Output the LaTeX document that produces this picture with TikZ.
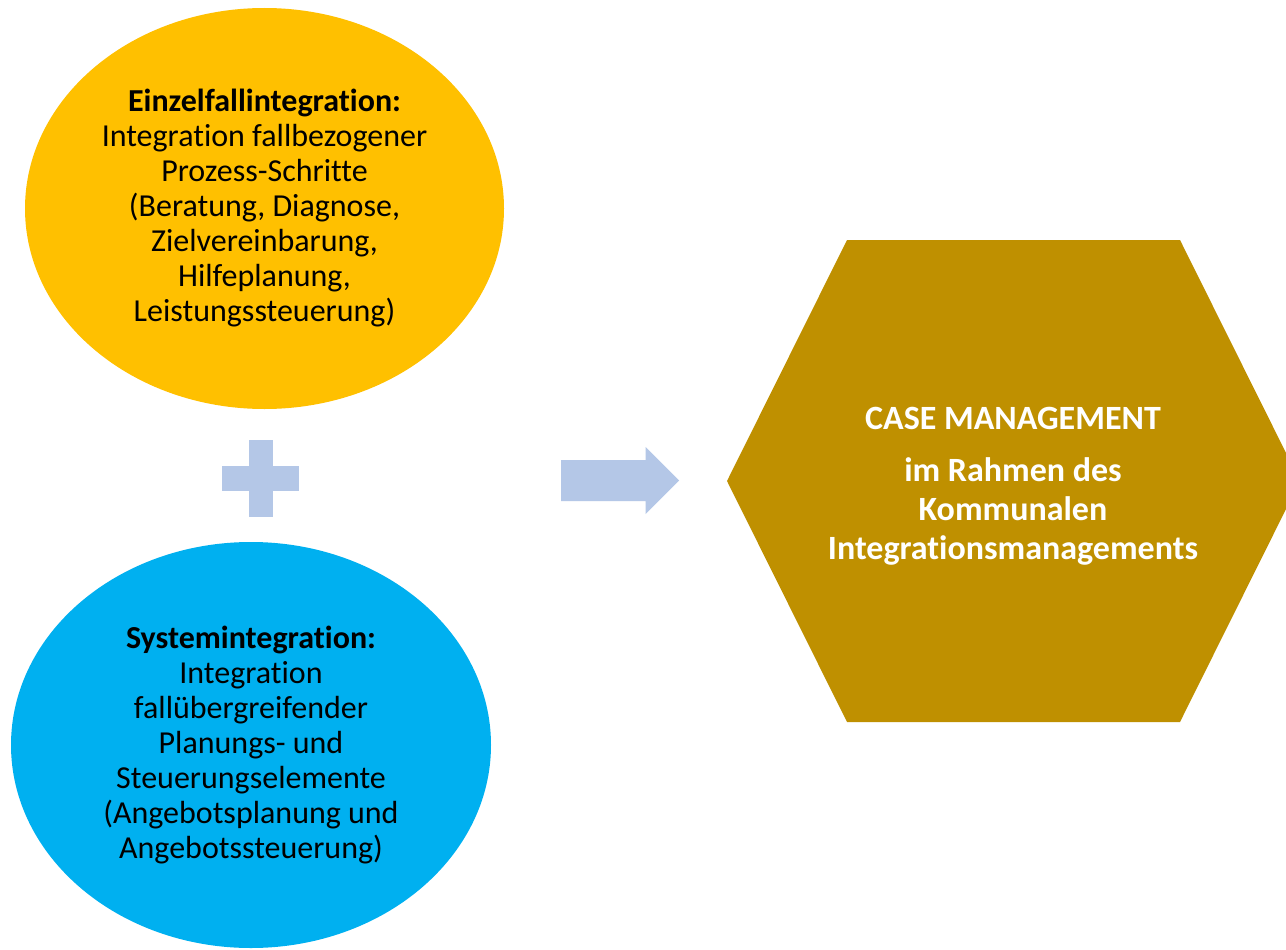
\documentclass[tikz,border=0pt]{standalone}
\usepackage{fontspec}
\setmainfont{Carlito}[Ligatures=NoCommon]
\usetikzlibrary{shapes.geometric}
\definecolor{yel}{HTML}{FFC000}
\definecolor{cyanb}{HTML}{00B0F0}
\definecolor{goldc}{HTML}{BF9000}
\definecolor{lblue}{HTML}{B4C7E7}
\begin{document}
\begin{tikzpicture}[x=1pt,y=-1pt,
  blob/.style={ellipse, inner sep=0pt, align=center, font=\fontsize{32}{35}\selectfont},
  hextext/.style={align=center, text=white, font=\bfseries\fontsize{34}{39}\selectfont}]
\useasboundingbox (0,0) rectangle (1286,950);
\clip (0,0) rectangle (1286,950);
\fill[white] (0,0) rectangle (1286,950);
% ellipses
\node[blob, fill=yel, minimum width=479pt, minimum height=401pt] (e1) at (264.5,208.5)
  {\textbf{Einzelfallintegration:}\\Integration fallbezogener\\Prozess-Schritte\\(Beratung, Diagnose,\\Zielvereinbarung,\\Hilfeplanung,\\Leistungssteuerung)};
\node[blob, fill=cyanb, minimum width=480pt, minimum height=406pt] (e2) at (251,745)
  {\textbf{Systemintegration:}\\Integration\\fallübergreifender\\Planungs- und\\Steuerungselemente\\(Angebotsplanung und\\Angebotssteuerung)};
% plus
\fill[lblue] (248.7,440) rectangle (273.3,517);
\fill[lblue] (222,466) rectangle (299,491);
% block arrow
\fill[lblue] (561,460) -- (645.5,460) -- (645.5,447) -- (679,480.5) -- (645.5,514) -- (645.5,501) -- (561,501) -- cycle;
% hexagon
\coordinate (hl) at (727,481);
\coordinate (htl) at (847,240);
\coordinate (htr) at (1180,240);
\coordinate (hr) at (1300,481);
\coordinate (hbr) at (1180,722);
\coordinate (hbl) at (847,722);
\fill[goldc] (hl) -- (htl) -- (htr) -- (hr) -- (hbr) -- (hbl) -- cycle;
\node[hextext] (hx) at (1013,486)
  {CASE MANAGEMENT\\[13pt]im Rahmen des\\Kommunalen\\Integrationsmanagements};
\end{tikzpicture}
\end{document}
